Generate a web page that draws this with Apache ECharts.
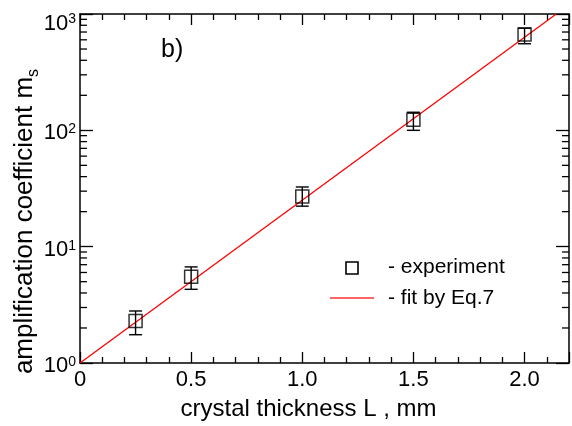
<!DOCTYPE html>
<html>
<head>
<meta charset="utf-8">
<script src="https://cdn.jsdelivr.net/npm/echarts@6/dist/echarts.min.js"></script>
<style>
  html, body { margin: 0; padding: 0; background: #fff; }
  #chart { width: 572px; height: 426px; }
</style>
</head>
<body>
<div id="chart"></div>
<script>
// measured points (crystal thickness, mm -> amplification coefficient)
var thickness = [0.25, 0.5, 1.0, 1.5, 2.0];
var ampl = [2.3, 5.5, 27, 123, 665];
var errLow = [1.75, 4.3, 22.3, 100, 555];
var errHigh = [2.8, 6.7, 32.6, 143, 755];

// fit by Eq.7 (straight on log scale)
var fitX = [0, 2.143];
var fitY = [1, 1000];

// log axis minor tick positions
var minorY = [2, 3, 4, 5, 6, 7, 8, 9, 20, 30, 40, 50, 60, 70, 80, 90, 200, 300, 400, 500, 600, 700, 800, 900];

var FONT = '"Liberation Sans", Arial, sans-serif';
var chart = echarts.init(document.getElementById('chart'));

var xBase = {
  type: 'value', min: 0, max: 2.2, interval: 0.5,
  axisLine: { show: true, onZero: false, lineStyle: { color: '#000', width: 1.5 } },
  axisTick: { show: true, inside: true, length: 11, lineStyle: { color: '#000', width: 1.3 } },
  minorTick: { show: true, splitNumber: 5, length: 6, lineStyle: { color: '#000', width: 1.3 } },
  splitLine: { show: false }
};
var yBase = {
  type: 'log', logBase: 10, min: 1, max: 1000,
  axisLine: { show: true, onZero: false, lineStyle: { color: '#000', width: 1.5 } },
  axisTick: { show: true, inside: true, length: 13, lineStyle: { color: '#000', width: 1.3 } },
  splitLine: { show: false }
};

var option = {
  animation: false,
  grid: { left: 80, right: 3, top: 14, bottom: 63, containLabel: false, outerBoundsMode: 'none' },
  xAxis: [
    Object.assign({}, xBase, {
      position: 'bottom',
      name: 'crystal thickness L , mm',
      nameLocation: 'middle',
      nameGap: 34,
      nameMoveOverlap: false,
      nameTextStyle: { fontFamily: FONT, fontSize: 24, color: '#000', padding: [0, 32, 0, 0] },
      axisLabel: {
        margin: 6, fontFamily: FONT, fontSize: 22, color: '#000',
        formatter: function (v) {
          if (Math.abs(v * 2 - Math.round(v * 2)) > 1e-6) return '';
          return v === 0 ? '0' : v.toFixed(1);
        }
      }
    }),
    Object.assign({}, xBase, { position: 'top', axisLabel: { show: false } })
  ],
  yAxis: [
    Object.assign({}, yBase, {
      position: 'left',
      name: '{a|amplification coefficient m}{s|s}',
      nameLocation: 'middle',
      nameGap: 42,
      nameMoveOverlap: false,
      nameTextStyle: {
        padding: [0, 66, 0, 0],
        rich: {
          a: { fontFamily: FONT, fontSize: 26, color: '#000' },
          s: { fontFamily: FONT, fontSize: 16, color: '#000', verticalAlign: 'bottom', padding: [0, 0, -4, 0] }
        }
      },
      axisLabel: {
        margin: 4,
        padding: [6, 0, 0, 0],
        formatter: function (v) {
          var n = Math.round(Math.log10(v));
          if (n === 3) return '{bt|10}{et|3}';
          return '{b|10}{e|' + n + '}';
        },
        rich: {
          b: { fontFamily: FONT, fontSize: 22, color: '#000' },
          e: { fontFamily: FONT, fontSize: 14, color: '#000', verticalAlign: 'top' },
          bt: { fontFamily: FONT, fontSize: 22, color: '#000', padding: [13, 0, 0, 0] },
          et: { fontFamily: FONT, fontSize: 14, color: '#000', verticalAlign: 'top', padding: [13, 0, 0, 0] }
        }
      }
    }),
    Object.assign({}, yBase, { position: 'right', axisLabel: { show: false } })
  ],
  graphic: [
    { type: 'text', left: 161, top: 38, style: { text: 'b)', fontFamily: FONT, fontSize: 25, fill: '#000' } },
    { type: 'rect', shape: { x: 346, y: 262, width: 12, height: 12 }, style: { fill: 'none', stroke: '#000', lineWidth: 1.6 } },
    { type: 'line', shape: { x1: 330, y1: 298, x2: 374, y2: 298 }, style: { stroke: '#ff3030', lineWidth: 1.3 } },
    { type: 'text', x: 388, y: 267, style: { text: '- experiment', fontFamily: FONT, fontSize: 21, fill: '#000', textVerticalAlign: 'middle' } },
    { type: 'text', x: 388, y: 298, style: { text: '- fit by Eq.7', fontFamily: FONT, fontSize: 21, fill: '#000', textVerticalAlign: 'middle' } }
  ],
  series: [
    {
      // minor ticks of the log axes (left and right)
      type: 'custom',
      silent: true,
      data: minorY.map(function (v) { return [0, v]; }),
      encode: { x: 0, y: 1 },
      renderItem: function (params, api) {
        var y = api.coord([0, api.value(1)])[1];
        var xl = api.coord([0, 1])[0];
        var xr = api.coord([2.2, 1])[0];
        var st = { stroke: '#000', lineWidth: 1.3 };
        return {
          type: 'group',
          children: [
            { type: 'line', shape: { x1: xl, y1: y, x2: xl + 7, y2: y }, style: st },
            { type: 'line', shape: { x1: xr, y1: y, x2: xr - 7, y2: y }, style: st }
          ]
        };
      }
    },
    {
      type: 'line',
      data: fitX.map(function (x, i) { return [x, fitY[i]]; }),
      showSymbol: false,
      clip: true,
      lineStyle: { color: '#ff0000', width: 1.3 },
      z: 3
    },
    {
      // error bars
      type: 'custom',
      data: thickness.map(function (x, i) { return [x, errLow[i], errHigh[i]]; }),
      encode: { x: 0, y: [1, 2] },
      renderItem: function (params, api) {
        var lo = api.coord([api.value(0), api.value(1)]);
        var hi = api.coord([api.value(0), api.value(2)]);
        var w = 6.5;
        var st = { stroke: '#000', lineWidth: 1.4 };
        return {
          type: 'group',
          children: [
            { type: 'line', shape: { x1: lo[0], y1: lo[1], x2: hi[0], y2: hi[1] }, style: st },
            { type: 'line', shape: { x1: lo[0] - w, y1: lo[1], x2: lo[0] + w, y2: lo[1] }, style: st },
            { type: 'line', shape: { x1: hi[0] - w, y1: hi[1], x2: hi[0] + w, y2: hi[1] }, style: st }
          ]
        };
      },
      z: 4
    },
    {
      type: 'scatter',
      data: thickness.map(function (x, i) { return [x, ampl[i]]; }),
      symbol: 'rect',
      symbolSize: 13,
      itemStyle: { color: 'rgba(0,0,0,0)', borderColor: '#000', borderWidth: 1.5 },
      z: 5
    }
  ]
};
chart.setOption(option);
</script>
</body>
</html>
